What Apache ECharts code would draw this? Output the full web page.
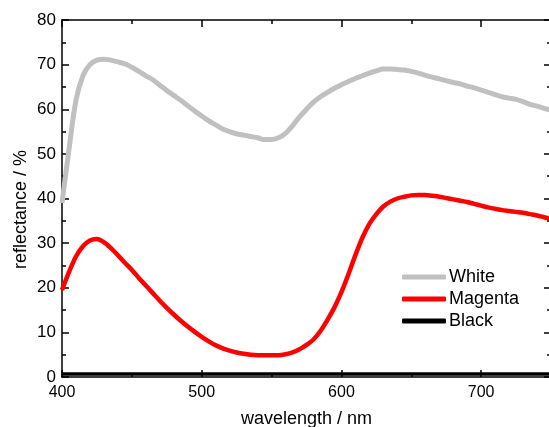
<!DOCTYPE html>
<html>
<head>
<meta charset="utf-8">
<script src="https://cdn.jsdelivr.net/npm/echarts@6/dist/echarts.min.js"></script>
<style>
  html, body { margin: 0; padding: 0; background: #fff; }
  #chart { width: 549px; height: 427px; }
</style>
</head>
<body>
<div id="chart"></div>
<script>
// Reflectance spectra sampled every 5 nm, 400-750 nm
const wavelengths = [];
for (let w = 400; w <= 750; w += 5) wavelengths.push(w);

const whiteValues = [
  39, 51, 62, 67.5, 70, 71, 71.2, 71, 70.6, 70.2,
  69.4, 68.5, 67.5, 66.6, 65.4, 64.2, 63.1, 62, 60.8, 59.6,
  58.5, 57.4, 56.5, 55.6, 55, 54.5, 54.2, 53.9, 53.6, 53.2,
  53.2, 53.6, 54.6, 56.3, 58.3, 60, 61.6, 62.8, 63.8, 64.7,
  65.5, 66.2, 66.9, 67.5, 68.1, 68.6, 69, 69, 68.9, 68.8,
  68.5, 68.1, 67.6, 67.2, 66.8, 66.4, 66, 65.7, 65.2, 64.8,
  64.3, 63.8, 63.3, 62.8, 62.5, 62.2, 61.7, 61.1, 60.7, 60.2,
  59.8
];

const magentaValues = [
  19.5, 23.5, 27, 29.3, 30.6, 30.9, 30.2, 28.9, 27.3, 25.6,
  24, 22.2, 20.5, 18.8, 17.1, 15.5, 14, 12.6, 11.3, 10.1,
  9, 8, 7.1, 6.4, 5.9, 5.5, 5.2, 5, 4.9, 4.9,
  4.9, 4.9, 5.1, 5.5, 6.2, 7.2, 8.4, 10.3, 12.8, 15.6,
  19, 23, 27.3, 31.2, 34.3, 36.5, 38.2, 39.3, 40, 40.4,
  40.7, 40.8, 40.8, 40.6, 40.4, 40.1, 39.8, 39.5, 39.2, 38.8,
  38.4, 38, 37.7, 37.4, 37.2, 37, 36.8, 36.5, 36.2, 35.8,
  35.4
];

const blackValues = [
  0.7, 0.7, 0.7, 0.7, 0.7, 0.7, 0.7, 0.7, 0.7, 0.7,
  0.7, 0.7, 0.7, 0.7, 0.7, 0.7, 0.7, 0.7, 0.7, 0.7,
  0.7, 0.7, 0.7, 0.7, 0.7, 0.7, 0.7, 0.7, 0.7, 0.7,
  0.7, 0.7, 0.7, 0.7, 0.7, 0.7, 0.7, 0.7, 0.7, 0.7,
  0.7, 0.7, 0.7, 0.7, 0.7, 0.7, 0.7, 0.7, 0.7, 0.7,
  0.7, 0.7, 0.7, 0.7, 0.7, 0.7, 0.7, 0.7, 0.7, 0.7,
  0.7, 0.7, 0.7, 0.7, 0.7, 0.7, 0.7, 0.7, 0.7, 0.7,
  0.7
];

const seriesNames = ['White', 'Magenta', 'Black'];
const seriesColors = ['#c0c0c0', '#ff0000', '#000000'];
const seriesWidths = [5, 4.5, 3.5];
const xTitle = 'wavelength / nm';
const yTitle = 'reflectance / %';

const pair = (vals) => wavelengths.map((w, i) => [w, vals[i]]);

const labelFont = '"Liberation Sans Narrow", "Liberation Sans", sans-serif';
const axisLine = { show: true, onZero: false, lineStyle: { color: '#000', width: 1.5 } };

function xAxis(position, showLabel) {
  return {
    type: 'value', position, min: 400, max: 750, interval: 100,
    axisLine, splitLine: { show: false },
    axisTick: { show: true, inside: true, length: 7, lineStyle: { color: '#000', width: 1.5 } },
    minorTick: { show: true, splitNumber: 2, length: 4, lineStyle: { color: '#000', width: 1.5 } },
    axisLabel: { show: showLabel, showMaxLabel: false, color: '#000', fontFamily: labelFont, fontSize: 16, margin: 8 },
    name: showLabel ? xTitle : '', nameLocation: 'middle', nameGap: 33,
    nameTextStyle: { color: '#000', fontFamily: labelFont, fontSize: 18 }
  };
}

function yAxis(position, showLabel) {
  return {
    type: 'value', position, min: 0, max: 80, interval: 10,
    axisLine, splitLine: { show: false },
    axisTick: { show: true, inside: true, length: 7, lineStyle: { color: '#000', width: 1.5 } },
    minorTick: { show: true, splitNumber: 2, length: 4, lineStyle: { color: '#000', width: 1.5 } },
    axisLabel: { show: showLabel, color: '#000', fontFamily: labelFont, fontSize: 17, margin: 6 },
    name: showLabel ? yTitle : '', nameLocation: 'middle', nameGap: 32, nameMoveOverlap: false,
    nameTextStyle: { color: '#000', fontFamily: labelFont, fontSize: 18, padding: [0, 22, 0, 0] }
  };
}

const chart = echarts.init(document.getElementById('chart'), null, { renderer: 'canvas' });

chart.setOption({
  animation: false,
  backgroundColor: '#fff',
  grid: { left: 62, top: 20, right: -2, bottom: 50, containLabel: false, outerBoundsMode: 'none' },
  xAxis: [xAxis('bottom', true), xAxis('top', false)],
  yAxis: [yAxis('left', true), yAxis('right', false)],
  legend: {
    left: 402, top: 268, orient: 'vertical', padding: 0,
    itemWidth: 44, itemHeight: 5, itemGap: 4,
    icon: 'roundRect',
    textStyle: { color: '#000', fontFamily: labelFont, fontSize: 18, padding: [0, 0, 0, -2] },
    data: seriesNames
  },
  series: [whiteValues, magentaValues, blackValues].map((vals, i) => ({
    name: seriesNames[i],
    type: 'line',
    data: pair(vals),
    showSymbol: false,
    smooth: 0.3,
    color: seriesColors[i],
    lineStyle: { color: seriesColors[i], width: seriesWidths[i] },
    z: 3 - i
  }))
});
</script>
</body>
</html>
